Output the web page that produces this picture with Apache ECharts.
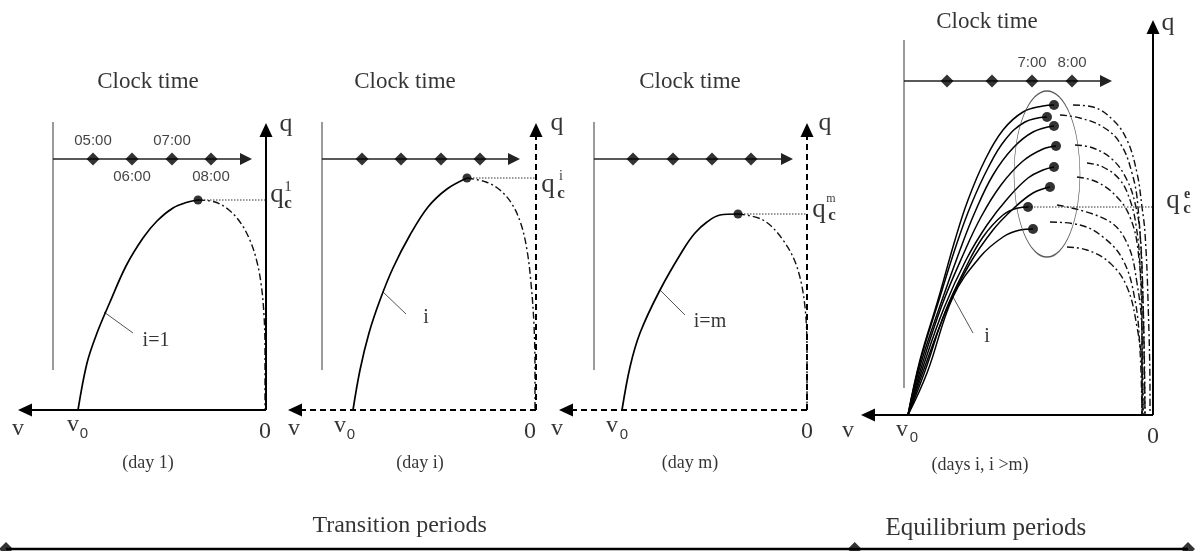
<!DOCTYPE html>
<html><head><meta charset="utf-8">
<script src="https://cdn.jsdelivr.net/npm/echarts@6/dist/echarts.min.js"></script>
<style>html,body{margin:0;padding:0;background:#fff}#c{width:1197px;height:551px}</style>
</head><body><div id="c"></div>
<script>
// ================= DATA =================
// Each panel: v (speed) grows to the left from the q axis, q (flow) grows upward. Units: arbitrary schematic units.
const clockTicksDay1 = ['05:00', '06:00', '07:00', '08:00'];
const clockTicksEq = ['', '', '7:00', '8:00'];
const dayLabels = ['(day 1)', '(day i)', '(day m)', '(days i, i >m)'];
const curveLabels = ['i=1', 'i', 'i=m', 'i'];
const capacityIndex = ['1', 'i', 'm', 'e'];
const periodLabels = ['Transition periods', 'Equilibrium periods'];
const periodBounds = [0, 0.718, 1];

// clock-time diamonds (v position) per panel
const clockV1 = [173, 134, 94, 55];
const clockV2 = [174, 135, 95, 56];
const clockV3 = [174, 134, 95, 56];
const clockV4 = [206, 161, 121, 81];

// day 1
const freeDay1 = [[188,0],[179,47],[169,77],[156,108],[140,144],[123,172],[109,189],[93,202],[78,208],[68,210]];
const congDay1 = [[68,210],[51,208],[37,200],[26,188],[17,172],[10,152],[5,127],[2,95],[1,60],[1,0]];
// day i
const freeDayI = [[183,0],[176,40],[167,77],[156,110],[143,142],[126,175],[108,203],[89,221],[69,232]];
const congDayI = [[69,232],[50,228],[36,220],[24,206],[15,186],[9,160],[5,127],[2,85],[1,40],[1,0]];
// day m
const freeDayM = [[185,0],[177,43],[167,77],[147,120],[124,160],[112,177],[100,188],[87,195],[69,196]];
const congDayM = [[69,196],[44,190],[24,170],[10,143],[2,103],[0,50],[0,0]];
// equilibrium days
const freeEq1 = [[245,0],[233,55],[215,115],[198,175],[185,215],[168,255],[150,285],[130,303],[110,309],[99,310]];
const freeEq2 = [[245,0],[233,53],[214,115],[196,172],[182,210],[165,247],[148,275],[128,293],[106,298]];
const freeEq3 = [[245,0],[232,52],[212,112],[193,165],[178,203],[160,240],[140,267],[120,283],[99,289]];
const freeEq4 = [[245,0],[231,50],[211,110],[190,160],[172,198],[152,230],[130,254],[110,266],[97,269]];
const freeEq5 = [[245,0],[230,48],[209,107],[187,155],[166,190],[145,217],[125,237],[110,245],[99,248]];
const freeEq6 = [[245,0],[229,46],[207,104],[184,150],[160,185],[140,206],[120,222],[103,228]];
const freeEq7 = [[245,0],[228,44],[208,103],[188,146],[170,178],[150,200],[135,207],[125,208]];
const freeEq8 = [[245,0],[226,42],[200,118],[173,158],[150,178],[133,185],[120,186]];
const congEq1 = [[80,310],[60,308],[40,295],[26,275],[16,242],[11,208],[8,182],[5,115],[3,15],[3,0]];
const congEq2 = [[93,300],[73,297],[50,288],[33,272],[21,242],[15,208],[10,115],[8,0]];
const congEq3 = [[78,270],[60,267],[40,255],[26,235],[18,212],[13,182],[10,115],[8,0]];
const congEq4 = [[66,252],[50,248],[33,235],[23,215],[17,190],[13,150],[11,60],[11,0]];
const congEq5 = [[76,238],[56,233],[36,218],[23,198],[15,165],[11,98],[11,0]];
const congEq6 = [[96,210],[46,195],[26,172],[16,132],[11,82],[10,0]];
const congEq7 = [[103,193],[73,190],[50,178],[30,155],[18,115],[13,65],[11,0]];
const congEq8 = [[86,168],[66,165],[43,152],[26,128],[16,88],[11,48],[10,0]];
const equilibriumCapacityCurve = 7; // index (1-based) of the curve giving q_c^e

// ================= LAYOUT / STYLE =================
const SERIF = '"Liberation Serif", "Times New Roman", serif';
const SANS = '"Liberation Sans", Arial, sans-serif';
const BLACK = '#000';

const panels = [
  { grid:{left:18, top:123, width:248, height:287}, dashed:false, free:freeDay1, cong:congDay1, clockV:clockV1,
    gray:{v:213, q0:40, q1:288}, clock:{v0:213, v1:14, q:251}, ticks:clockTicksDay1, tickPos:['top','bottom','top','bottom'],
    leader:[[162,98],[133,77]] },
  { grid:{left:288, top:123, width:248, height:287}, dashed:true, free:freeDayI, cong:congDayI, clockV:clockV2,
    gray:{v:214, q0:40, q1:288}, clock:{v0:214, v1:16, q:251}, ticks:null,
    leader:[[153,118],[130,96]] },
  { grid:{left:559, top:123, width:248, height:287}, dashed:true, free:freeDayM, cong:congDayM, clockV:clockV3,
    gray:{v:213, q0:40, q1:288}, clock:{v0:213, v1:14, q:251}, ticks:null,
    leader:[[147,120],[122,95]] },
  { grid:{left:861, top:20, width:292, height:395}, dashed:false, clockV:clockV4,
    gray:{v:249, q0:27, q1:375}, clock:{v0:249, v1:41, q:334}, ticks:clockTicksEq, tickPos:['top','top','top','top'],
    leader:[[200,118],[180,82]] }
];

function T(text, v, q, size, family, extra) { return {text, v, q, size, family: family || SERIF, extra: extra || {}}; }
const panelTexts = [
  [ T('Clock time',118,328,23), T('q',-20,286,26), T('q',-11,215,27), T(capacityIndex[0],-22,223,15),
    T('c',-22,206,17,SERIF,{fontWeight:'bold'}), T('v',248,-19,24), T('v',193,-15,24), T('0',182,-24,15,SANS),
    T('0',1,-22,24), T(curveLabels[0],110,69,20), T(dayLabels[0],118,-53,18) ],
  [ T('Clock time',131,328,23), T('q',-21,287,26), T('q',-12,225,27), T(capacityIndex[1],-25,234,14),
    T('c',-25,216,17,SERIF,{fontWeight:'bold'}), T('v',242,-19,24), T('v',196,-16,24), T('0',185,-25,15,SANS),
    T('0',6,-22,24), T(curveLabels[1],110,92,20), T(dayLabels[1],116,-53,18) ],
  [ T('Clock time',117,328,23), T('q',-18,287,26), T('q',-12,200,27), T(capacityIndex[2],-24,211,12),
    T('c',-25,194,17,SERIF,{fontWeight:'bold'}), T('v',250,-19,24), T('v',195,-16,24), T('0',183,-25,15,SANS),
    T('0',0,-22,24), T(curveLabels[2],97,88,20), T(dayLabels[2],117,-53,18) ],
  [ T('Clock time',166,393,23), T('q',-15,392,26), T('q',-20,214,27), T(capacityIndex[3],-34,221,14,SERIF,{fontWeight:'bold'}),
    T('c',-34,206,17,SERIF,{fontWeight:'bold'}), T('v',305,-16,24), T('v',251,-15,24), T('0',239,-23,15,SANS),
    T('0',0,-22,24), T(curveLabels[3],166,78,20), T(dayLabels[3],173,-50,18) ]
];

// ================= BUILD =================
const grids = panels.map(p => p.grid).concat([{left:6, top:500, width:1182, height:49}]);
const xAxis = [], yAxis = [];
panels.forEach((p, i) => {
  xAxis.push({gridIndex:i, type:'value', min:0, max:p.grid.width, inverse:true, show:false});
  yAxis.push({gridIndex:i, type:'value', min:0, max:p.grid.height, show:false});
});
xAxis.push({gridIndex:4, type:'value', min:0, max:1, show:false});
yAxis.push({gridIndex:4, type:'value', min:0, max:1, show:false});

const series = [];
function line(gi, data, style, extra) {
  series.push(Object.assign({type:'line', xAxisIndex:gi, yAxisIndex:gi, data, symbol:'none', silent:true,
    animation:false, clip:false, lineStyle:style, z:3}, extra || {}));
}
function arrows(gi, segs, style, size) {
  series.push({type:'line', xAxisIndex:gi, yAxisIndex:gi, data:[segs[0][0]], symbol:'none', silent:true, animation:false,
    lineStyle:{opacity:0}, z:2,
    markLine:{silent:true, animation:false, symbol:['none','triangle'], symbolSize:size, label:{show:false},
      emphasis:{disabled:true}, lineStyle:style,
      data: segs.map(s => [{coord:s[0]}, {coord:s[1]}])}});
}
function dots(gi, data, size, extra) {
  series.push(Object.assign({type:'scatter', xAxisIndex:gi, yAxisIndex:gi, data, symbol:'circle', symbolSize:size,
    itemStyle:{color:BLACK}, silent:true, animation:false, clip:false, z:5}, extra || {}));
}

const dashDot = [7, 3, 2, 3];

panels.forEach((p, gi) => {
  const W = p.grid.width, H = p.grid.height;
  arrows(gi, [[[0,0],[0,H-7]], [[0,0],[W-7,0]]],
    {color:BLACK, width:2, type: p.dashed ? [6,4] : 'solid'}, [13,14]);
  line(gi, [[p.gray.v,p.gray.q0],[p.gray.v,p.gray.q1]], {color:'#7a7a7a', width:1.5});
  arrows(gi, [[[p.clock.v0,p.clock.q],[p.clock.v1+6,p.clock.q]]], {color:'#222', width:1.5, type:'solid'}, [12,12]);
  dots(gi, p.clockV.map((v, k) => {
    const item = {value:[v, p.clock.q]};
    if (p.ticks && p.ticks[k]) item.label = {show:true, formatter:p.ticks[k], position:p.tickPos[k], distance:4,
      fontFamily:SANS, fontSize:15, color:'#111'};
    return item;
  }), 13, {symbol:'diamond'});
  line(gi, p.leader, {color:'#555', width:1});
});

[0,1,2].forEach(gi => {
  const p = panels[gi];
  const peak = p.free[p.free.length-1];
  line(gi, p.free, {color:BLACK, width:1.7}, {smooth:0.35});
  line(gi, p.cong, {color:'#111', width:1.4, type:dashDot}, {smooth:0.35});
  line(gi, [peak, [0, peak[1]]], {color:'#333', width:1, type:[1.5,1.5]});
  dots(gi, [peak], 9);
});

const freeEq = [freeEq1, freeEq2, freeEq3, freeEq4, freeEq5, freeEq6, freeEq7, freeEq8];
const congEq = [congEq1, congEq2, congEq3, congEq4, congEq5, congEq6, congEq7, congEq8];
freeEq.forEach(c => line(3, c, {color:BLACK, width:1.5}, {smooth:0.4}));
congEq.forEach(c => line(3, c, {color:'#111', width:1.4, type:dashDot}, {smooth:0.4}));
const eqPeaks = freeEq.map(c => c[c.length-1]);
const capPeak = eqPeaks[equilibriumCapacityCurve-1];
line(3, [capPeak, [0, capPeak[1]]], {color:'#333', width:1, type:[1.5,1.5]});
dots(3, eqPeaks, 10);
series.push({type:'scatter', xAxisIndex:3, yAxisIndex:3, data:[[106,241]], symbol:'circle', symbolSize:[66,166],
  itemStyle:{color:'rgba(0,0,0,0)', borderColor:'#333', borderWidth:1}, silent:true, animation:false, clip:false, z:4});

panelTexts.forEach((list, gi) => {
  series.push({type:'scatter', xAxisIndex:gi, yAxisIndex:gi, symbolSize:1, itemStyle:{color:'rgba(0,0,0,0)'},
    silent:true, animation:false, clip:false, z:10,
    data: list.map(t => ({value:[t.v, t.q], label:Object.assign({show:true, position:'inside', formatter:t.text,
      fontSize:t.size, fontFamily:t.family, color:BLACK, fontWeight:'normal'}, t.extra)}))});
});

line(4, [[periodBounds[0],0],[periodBounds[2],0]], {color:BLACK, width:2.5});
dots(4, periodBounds.map(v => [v,0]), 14, {symbol:'diamond'});
series.push({type:'scatter', xAxisIndex:4, yAxisIndex:4, symbolSize:1, itemStyle:{color:'rgba(0,0,0,0)'},
  silent:true, animation:false, clip:false, z:10,
  data:[
    {value:[0.333,0.47], label:{show:true, position:'inside', formatter:periodLabels[0], fontSize:24, fontFamily:SERIF, color:BLACK}},
    {value:[0.829,0.41], label:{show:true, position:'inside', formatter:periodLabels[1], fontSize:25, fontFamily:SERIF, color:BLACK}}
  ]});

const chart = echarts.init(document.getElementById('c'));
chart.setOption({animation:false, backgroundColor:'#fff', grid:grids, xAxis, yAxis, series});
</script></body></html>
